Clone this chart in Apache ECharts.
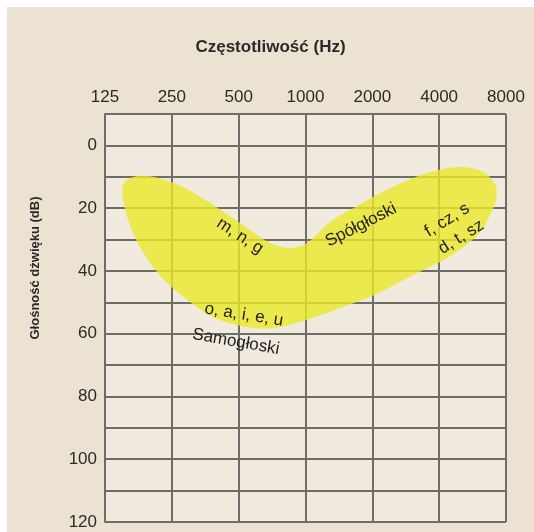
<!DOCTYPE html>
<html><head><meta charset="utf-8">
<script src="https://cdn.jsdelivr.net/npm/echarts@6/dist/echarts.min.js"></script>
<style>
html,body{margin:0;padding:0;background:#fff;}
#wrap{position:absolute;left:7px;top:7px;width:527px;height:525px;background:#ece2d1;}
#c{width:527px;height:525px;}
</style></head><body>
<div id="wrap"><div id="c"></div></div>
<script>
// Axis labels
const freqLabels = ['125', '250', '500', '1000', '2000', '4000', '8000'];
const dbTicks = [0, 20, 40, 60, 80, 100, 120];

// Speech banana outline (frequency in Hz, level in dB HL)
const bananaFreq = [151, 162, 190, 233, 287, 384, 547, 693, 853, 1014, 1292, 1815, 2173, 3053, 4028, 5134, 6320, 7161, 7210, 6775,
                    5977, 4347, 3053, 2056, 1434, 1007, 727, 536, 392, 306, 228, 185, 162, 151];
const bananaDb   = [12.6, 10.4, 9.7, 11.0, 13.6, 19.0, 26.3, 31.1, 32.7, 31.1, 24.4, 18.3, 15.2, 10.4, 7.8, 6.9, 8.5, 12.6, 17.4, 22.2,
                    28.5, 35.9, 41.3, 47.6, 51.8, 55.6, 58.2, 57.8, 55.0, 50.2, 42.5, 33.9, 25.4, 17.4];

// Annotations
const noteTexts = ['m, n, g', 'Spółgłoski', 'f, cz, s', 'd, t, sz', 'o, a, i, e, u', 'Samogłoski'];
const noteFreq  = [507, 1779, 4347, 5029, 528, 486];
const noteDb    = [28.9, 25.4, 23.8, 29.2, 54.0, 62.6];
const noteAngle = [-33, 27, 32, 32, -9, -10];

const toOct = f => Math.log2(f / 125);

const chart = echarts.init(document.getElementById('c'), null, {renderer: 'canvas'});
const gridLine = {color: '#6e6e69', width: 2};
const FONT = '"Liberation Sans", Arial, sans-serif';

chart.setOption({
  backgroundColor: 'transparent',
  animation: false,
  title: {
    text: 'Częstotliwość (Hz)',
    left: 'center',
    top: 27,
    textStyle: {fontFamily: FONT, fontSize: 17, fontWeight: 'bold', color: '#2a2a2a'}
  },
  grid: {left: 98, right: 28, top: 107, bottom: 10, show: true, backgroundColor: '#f1eadf', borderWidth: 0},
  xAxis: {
    type: 'value', position: 'top', min: 0, max: 6, interval: 1,
    axisLine: {show: true, lineStyle: gridLine},
    axisTick: {show: false},
    splitLine: {show: true, lineStyle: gridLine},
    axisLabel: {
      margin: 8, fontFamily: FONT, fontSize: 17, color: '#2a2a2a',
      formatter: v => freqLabels[Math.round(v)] || ''
    }
  },
  yAxis: {
    type: 'value', inverse: true, min: -10, max: 120, interval: 10,
    axisLine: {show: true, lineStyle: gridLine},
    axisTick: {show: false},
    splitLine: {show: true, lineStyle: gridLine},
    axisLabel: {
      margin: 8, fontFamily: FONT, fontSize: 17, color: '#2a2a2a',
      formatter: v => dbTicks.includes(v) ? String(v) : ''
    }
  },
  graphic: [{
    type: 'text', x: 28, y: 261, rotation: Math.PI / 2,
    style: {text: 'Głośność dźwięku (dB)', font: 'bold 13px ' + FONT, fill: '#2a2a2a', align: 'center', verticalAlign: 'middle'}
  }],
  series: [{
    type: 'custom',
    data: [[0, 0]],
    z: 3,
    renderItem: (params, api) => {
      const pts = bananaFreq.map((f, i) => api.coord([toOct(f), bananaDb[i]]));
      return {
        type: 'polygon',
        shape: {points: pts, smooth: 0.35},
        style: {fill: 'rgba(234,232,40,0.8)', stroke: null}
      };
    }
  }, {
    type: 'custom',
    z: 4,
    data: noteTexts.map((t, i) => [toOct(noteFreq[i]), noteDb[i], i]),
    renderItem: (params, api) => {
      const i = api.value(2);
      const p = api.coord([api.value(0), api.value(1)]);
      return {
        type: 'text', x: p[0], y: p[1], rotation: noteAngle[i] * Math.PI / 180,
        style: {text: noteTexts[i], font: '17px ' + FONT, fill: '#222', align: 'center', verticalAlign: 'middle'}
      };
    }
  }]
});
</script>
</body></html>
